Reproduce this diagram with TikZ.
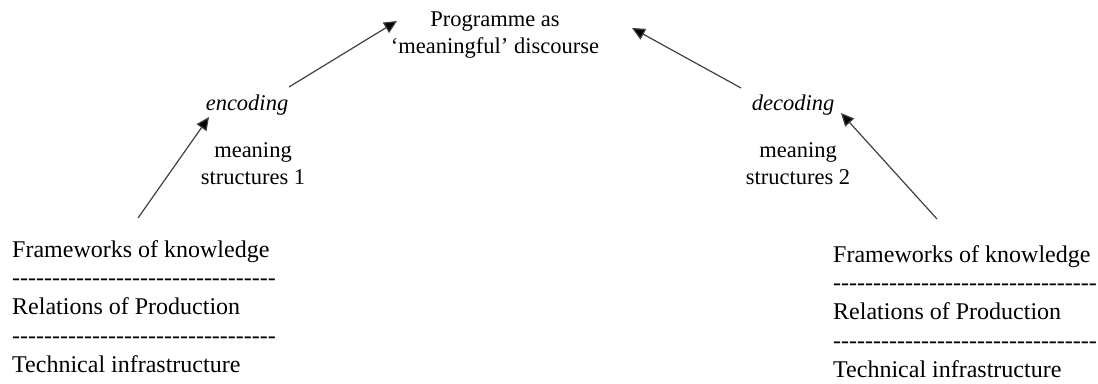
\documentclass[tikz,border=0pt]{standalone}
\usepackage{fontspec}
\setmainfont{Liberation Serif}
\usetikzlibrary{arrows.meta}
\newcommand\dashrow[1]{\foreach \i in {1,...,#1}{\hbox{-}}}
\begin{document}
\begin{tikzpicture}[x=1pt,y=-1pt,
  midtext/.style={font=\fontsize{22.5}{26.5}\selectfont, inner sep=0pt, align=center},
  blocktext/.style={font=\fontsize{24}{28.75}\selectfont, inner sep=0pt, align=left, anchor=base west},
  flow/.style={draw=black!75, line width=1.2pt, -{Triangle[length=13pt,width=12pt,fill=black]}}]
\useasboundingbox (0,0) rectangle (1098,383);

% multi-line nodes: base anchor = baseline of last line
\node[midtext, anchor=base] (prog) at (495,53) {Programme as\\‘meaningful’ discourse};
\node[midtext, anchor=base, font=\fontsize{22.5}{26.5}\selectfont\itshape] (enc) at (247,110) {encoding};
\node[midtext, anchor=base, font=\fontsize{22.5}{26.5}\selectfont\itshape] (dec) at (793,110) {decoding};
\node[midtext, anchor=base] (ms1) at (253,184) {meaning\\structures 1};
\node[midtext, anchor=base] (ms2) at (798,184) {meaning\\structures 2};

\node[blocktext] (left) at (12,372) {Frameworks of knowledge\\\dashrow{33}\\Relations of Production\\\dashrow{33}\\Technical infrastructure};
\node[blocktext] (right) at (833,377) {Frameworks of knowledge\\\dashrow{33}\\Relations of Production\\\dashrow{33}\\Technical infrastructure};

\coordinate (ls) at (138,218);
\coordinate (lt) at (209,117);
\coordinate (us) at (289,87);
\coordinate (ut) at (397,21);
\coordinate (vs) at (741,88);
\coordinate (vt) at (632,28);
\coordinate (rs) at (937,219);
\coordinate (rt) at (841,113);

\draw[flow] (ls) -- (lt);
\draw[flow] (us) -- (ut);
\draw[flow] (vs) -- (vt);
\draw[flow] (rs) -- (rt);
\end{tikzpicture}
\end{document}
